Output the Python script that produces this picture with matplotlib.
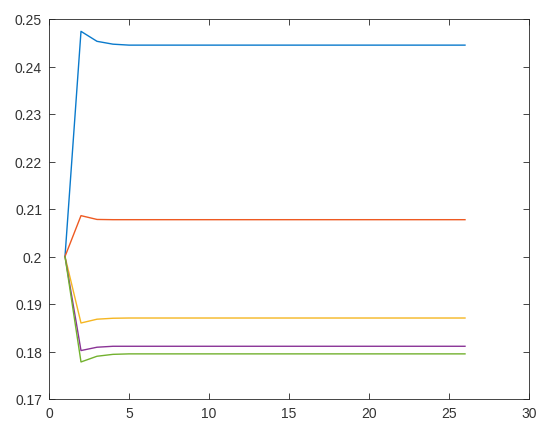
import matplotlib.pyplot as plt

steps = list(range(1, 27))

# one value per step
blue = [0.2000, 0.2474, 0.2453, 0.2447, 0.2445, 0.2445, 0.2445, 0.2445, 0.2445, 0.2445,
        0.2445, 0.2445, 0.2445, 0.2445, 0.2445, 0.2445, 0.2445, 0.2445, 0.2445, 0.2445,
        0.2445, 0.2445, 0.2445, 0.2445, 0.2445, 0.2445]
red = [0.2000, 0.2086, 0.2078, 0.20775, 0.20775, 0.20775, 0.20775, 0.20775, 0.20775, 0.20775,
       0.20775, 0.20775, 0.20775, 0.20775, 0.20775, 0.20775, 0.20775, 0.20775, 0.20775, 0.20775,
       0.20775, 0.20775, 0.20775, 0.20775, 0.20775, 0.20775]
yellow = [0.2000, 0.1860, 0.1868, 0.1870, 0.18705, 0.18705, 0.18705, 0.18705, 0.18705, 0.18705,
          0.18705, 0.18705, 0.18705, 0.18705, 0.18705, 0.18705, 0.18705, 0.18705, 0.18705, 0.18705,
          0.18705, 0.18705, 0.18705, 0.18705, 0.18705, 0.18705]
purple = [0.2000, 0.1802, 0.1809, 0.1811, 0.1811, 0.1811, 0.1811, 0.1811, 0.1811, 0.1811,
          0.1811, 0.1811, 0.1811, 0.1811, 0.1811, 0.1811, 0.1811, 0.1811, 0.1811, 0.1811,
          0.1811, 0.1811, 0.1811, 0.1811, 0.1811, 0.1811]
green = [0.2000, 0.1778, 0.1790, 0.1794, 0.1795, 0.1795, 0.1795, 0.1795, 0.1795, 0.1795,
         0.1795, 0.1795, 0.1795, 0.1795, 0.1795, 0.1795, 0.1795, 0.1795, 0.1795, 0.1795,
         0.1795, 0.1795, 0.1795, 0.1795, 0.1795, 0.1795]

series = [blue, red, yellow, purple, green]
colors = ["#0A7ACC", "#EE5A22", "#F5B622", "#8A3396", "#72B12E"]

plt.rcParams['font.family'] = ['Liberation Sans', 'DejaVu Sans']

fig = plt.figure(figsize=(5.5, 4.39), dpi=100)
ax = fig.add_axes([49 / 550, 1 - 400 / 439, 480 / 550, 380 / 439])

for ys, c in zip(series, colors):
    ax.plot(steps, ys, color=c, lw=1.0)

ax.set_xlim(0, 30)
ax.set_ylim(0.17, 0.25)
ax.set_xticks(range(0, 31, 5))
ax.set_yticks([0.17, 0.18, 0.19, 0.2, 0.21, 0.22, 0.23, 0.24, 0.25])
ax.set_yticklabels(["0.17", "0.18", "0.19", "0.2", "0.21", "0.22", "0.23", "0.24", "0.25"])
ax.tick_params(direction='in', top=True, right=True, length=4, width=0.6,
               color='#262626', labelcolor='#333333', labelsize=10, pad=5)
for s in ax.spines.values():
    s.set_color('#262626')
    s.set_linewidth(0.6)

fig.savefig("out.png", dpi=100)
